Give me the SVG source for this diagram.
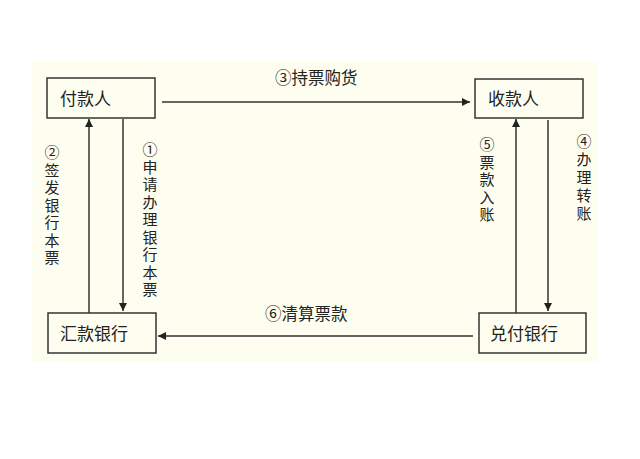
<svg xmlns="http://www.w3.org/2000/svg" width="640" height="459" viewBox="0 0 640 459">
<defs>
<style>
.box{fill:#fefef0;stroke:#333;stroke-width:1.5}
.lbl{font-family:"Noto Sans CJK SC","Liberation Sans",sans-serif;font-size:17px;fill:#222}
.t{font-family:"Noto Sans CJK SC","Liberation Sans",sans-serif;font-size:16.5px;fill:#222}
.v{font-family:"Noto Sans CJK SC","Liberation Sans",sans-serif;font-size:15px;fill:#222;text-anchor:middle}
.ln{stroke:#333;stroke-width:1.5;fill:none}
</style>
<marker id="ah" viewBox="0 0 10 10" refX="10" refY="5" markerWidth="8" markerHeight="8" markerUnits="userSpaceOnUse" orient="auto">
<path d="M0,0 L10,5 L0,10 Z" fill="#222"/>
</marker>
</defs>
<rect x="0" y="0" width="640" height="459" fill="#ffffff"/>
<rect x="32" y="62" width="565" height="300" fill="#fefef0"/>
<g id="connectors">
<line class="ln" x1="162" y1="102" x2="470" y2="102" marker-end="url(#ah)"/>
<line class="ln" x1="473" y1="336" x2="158" y2="336" marker-end="url(#ah)"/>
<line class="ln" x1="89" y1="313" x2="89" y2="119" marker-end="url(#ah)"/>
<line class="ln" x1="123" y1="119" x2="123" y2="311" marker-end="url(#ah)"/>
<line class="ln" x1="516" y1="313" x2="516" y2="119" marker-end="url(#ah)"/>
<line class="ln" x1="548" y1="120" x2="548" y2="311" marker-end="url(#ah)"/>
<text class="t" x="275" y="84">③持票购货</text>
<text class="t" x="265" y="320">⑥清算票款</text>
<text class="v"><tspan x="52" y="158">②</tspan><tspan x="52" y="175.5">签</tspan><tspan x="52" y="193">发</tspan><tspan x="52" y="210.5">银</tspan><tspan x="52" y="228">行</tspan><tspan x="52" y="245.5">本</tspan><tspan x="52" y="263">票</tspan></text>
<text class="v"><tspan x="150" y="155">①</tspan><tspan x="150" y="172.5">申</tspan><tspan x="150" y="190">请</tspan><tspan x="150" y="207.5">办</tspan><tspan x="150" y="225">理</tspan><tspan x="150" y="242.5">银</tspan><tspan x="150" y="260">行</tspan><tspan x="150" y="277.5">本</tspan><tspan x="150" y="295">票</tspan></text>
<text class="v"><tspan x="487" y="150">⑤</tspan><tspan x="487" y="167.5">票</tspan><tspan x="487" y="185">款</tspan><tspan x="487" y="202.5">入</tspan><tspan x="487" y="220">账</tspan></text>
<text class="v"><tspan x="584" y="147">④</tspan><tspan x="584" y="165">办</tspan><tspan x="584" y="183">理</tspan><tspan x="584" y="201">转</tspan><tspan x="584" y="219">账</tspan></text>
</g>
<g id="payer">
<rect class="box" x="47" y="78" width="108" height="40"/>
<text class="lbl" x="60" y="105">付款人</text>
</g>
<g id="payee">
<rect class="box" x="475" y="79" width="108" height="39"/>
<text class="lbl" x="488" y="105">收款人</text>
</g>
<g id="remit-bank">
<rect class="box" x="48" y="313" width="108" height="40"/>
<text class="lbl" x="60" y="340">汇款银行</text>
</g>
<g id="pay-bank">
<rect class="box" x="479" y="313" width="107" height="40"/>
<text class="lbl" x="490" y="340">兑付银行</text>
</g>
</svg>
